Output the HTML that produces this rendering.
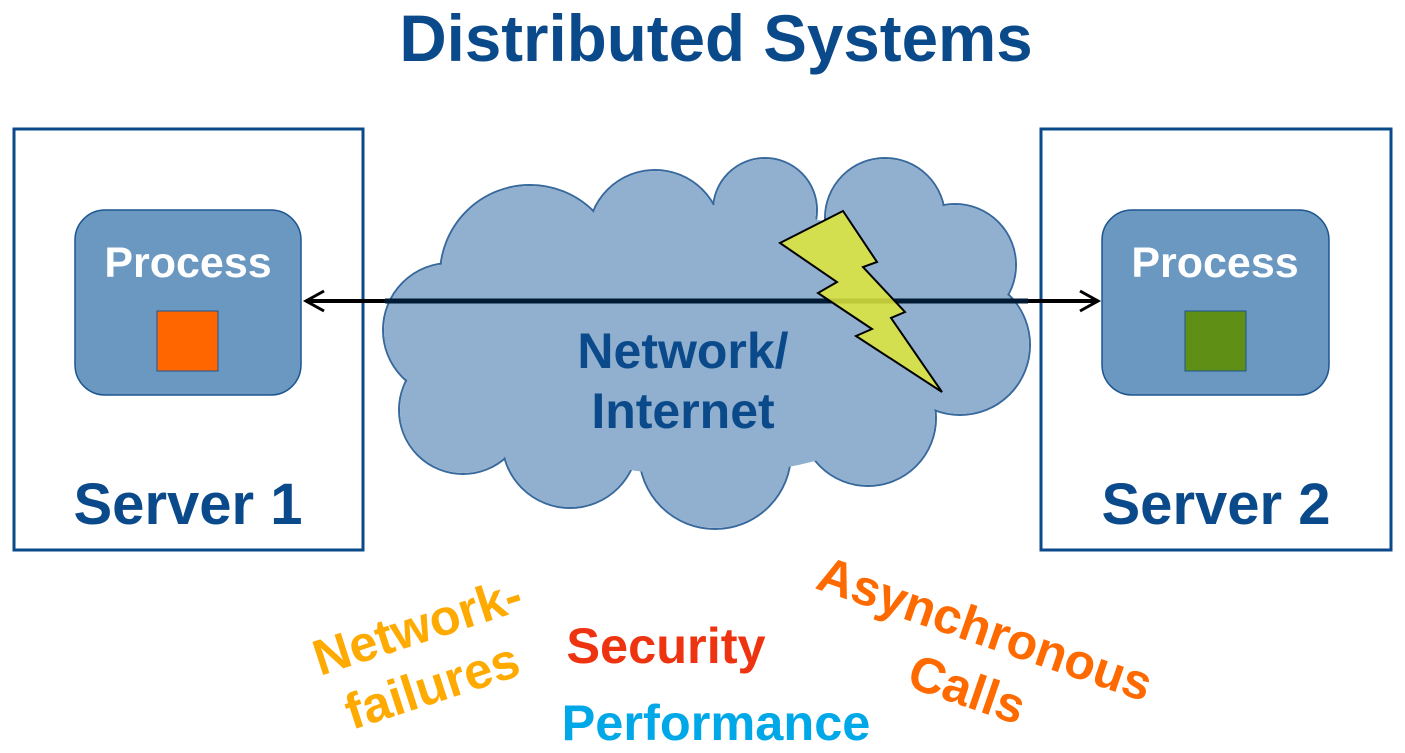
<!DOCTYPE html>
<html><head><meta charset="utf-8"><style>html,body{margin:0;padding:0;background:#fff;}svg{display:block;}</style></head>
<body>
<svg width="1405" height="753" viewBox="0 0 1405 753" xmlns="http://www.w3.org/2000/svg" font-family="Liberation Sans, sans-serif" font-weight="bold">
<text x="716" y="61" text-anchor="middle" font-size="65.5" fill="#0b4a8a">Distributed Systems</text>
<rect x="14" y="129" width="349" height="421" fill="none" stroke="#0b4a8a" stroke-width="3"/>
<rect x="1041" y="129" width="350" height="421" fill="none" stroke="#0b4a8a" stroke-width="3"/>
<rect x="75" y="210" width="226" height="185" rx="30" fill="#6b98c0" stroke="#1d5590" stroke-width="1.5"/>
<rect x="1102" y="210" width="227" height="185" rx="30" fill="#6b98c0" stroke="#1d5590" stroke-width="1.5"/>
<text x="188" y="277" text-anchor="middle" font-size="43" fill="#fff">Process</text>
<text x="1215" y="277" text-anchor="middle" font-size="43" fill="#fff">Process</text>
<rect x="157" y="311" width="61" height="60" fill="#ff6600" stroke="#1d5590" stroke-width="1"/>
<rect x="1185" y="311" width="61" height="60" fill="#5f8f14" stroke="#1d5590" stroke-width="1"/>
<text x="188" y="524" text-anchor="middle" font-size="58" fill="#0b4a8a">Server 1</text>
<text x="1216" y="524" text-anchor="middle" font-size="58" fill="#0b4a8a">Server 2</text>
<g opacity="0.88">
<g fill="none" stroke="#1d5590" stroke-width="2">
<circle cx="450" cy="330" r="67"/><circle cx="530" cy="275" r="90"/><circle cx="655" cy="237" r="67"/><circle cx="765" cy="210" r="52"/><circle cx="885" cy="218" r="60"/><circle cx="955" cy="265" r="61"/><circle cx="960" cy="345" r="70"/><circle cx="868" cy="418" r="68"/><circle cx="715" cy="453" r="76"/><circle cx="570" cy="440" r="68"/><circle cx="463" cy="410" r="64"/>
</g>
<g fill="#82a6c9">
<circle cx="450" cy="330" r="66"/><circle cx="530" cy="275" r="89"/><circle cx="655" cy="237" r="66"/><circle cx="765" cy="210" r="51"/><circle cx="885" cy="218" r="59"/><circle cx="955" cy="265" r="60"/><circle cx="960" cy="345" r="69"/><circle cx="868" cy="418" r="67"/><circle cx="715" cy="453" r="75"/><circle cx="570" cy="440" r="67"/><circle cx="463" cy="410" r="63"/>
<ellipse cx="700" cy="340" rx="260" ry="135"/>
</g>
</g>
<line x1="306" y1="301" x2="1098" y2="301" stroke="#000" stroke-width="4"/>
<line x1="385" y1="301" x2="1028" y2="301" stroke="#001a33" stroke-width="5"/>
<polyline points="324,291 306,301 324,311" fill="none" stroke="#000" stroke-width="3"/>
<polyline points="1080,291 1098,301 1080,311" fill="none" stroke="#000" stroke-width="3"/>
<polygon points="843,211 877,262 863,267 905,312 891,318 942,392 856,336 872,329 818,293 837,282 780,243" fill="#dfe83a" fill-opacity="0.85" stroke="#000" stroke-width="2"/>
<text x="683" y="368" text-anchor="middle" font-size="50" fill="#0b4a8a">Network/</text>
<text x="683" y="428" text-anchor="middle" font-size="50" fill="#0b4a8a">Internet</text>
<g font-size="50.5" fill="#ffaa00">
<text transform="translate(320,676) rotate(-18)">Network-</text>
<text transform="translate(352,730) rotate(-18)">failures</text>
</g>
<text x="666" y="663" text-anchor="middle" font-size="50.5" fill="#ee3311">Security</text>
<text x="716" y="740" text-anchor="middle" font-size="50.5" fill="#00a8e8">Performance</text>
<g font-size="50" fill="#ff6a00">
<text transform="translate(814,588) rotate(19)">Asynchronous</text>
<text transform="translate(905,686) rotate(19)">Calls</text>
</g>
</svg>
</body></html>
